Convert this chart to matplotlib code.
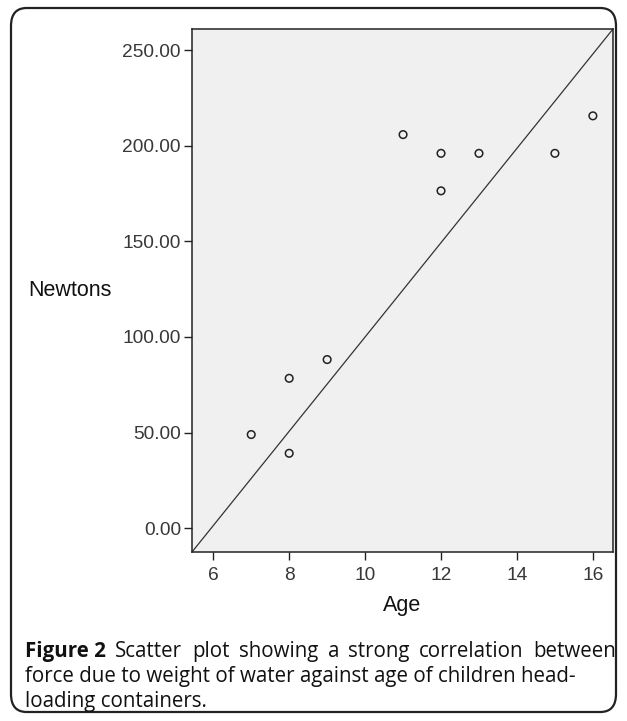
import numpy as np
import matplotlib
matplotlib.use("Agg")
import matplotlib.pyplot as plt
from matplotlib.patches import FancyBboxPatch

# donnees
age = [7, 8, 8, 9, 11, 12, 12, 13, 15, 16]
newtons = [49.0, 78.4, 39.2, 88.2, 205.8, 196.0, 176.4, 196.0, 196.0, 215.6]
yticks = [0, 50, 100, 150, 200, 250]
xticks = [6, 8, 10, 12, 14, 16]
xlim = (5.44, 16.53)
ylim = (-12.4, 261.0)

caption_1 = ["Scatter", "plot", "showing", "a", "strong", "correlation", "between"]
caption_2 = "force due to weight of water against age of children head-"
caption_3 = "loading containers."

W, H = 627, 721
fig = plt.figure(figsize=(W / 100, H / 100), dpi=100)
fig.patch.set_facecolor("white")

# cadre arrondi autour de la figure
box = FancyBboxPatch((11 / W, 9 / H), (W - 22) / W, (H - 17) / H,
                     boxstyle="round,pad=0,rounding_size=0.025",
                     transform=fig.transFigure, fill=False,
                     edgecolor="#222222", linewidth=1.6)
fig.patches.append(box)

ax = fig.add_axes([192 / W, 1 - 552 / H, (613 - 192) / W, (552 - 29) / H])
ax.set_facecolor("#f0f0f0")
ax.scatter(age, newtons, s=30, facecolors="none", edgecolors="#222222",
           linewidths=1.1, zorder=3)

ax.set_xlim(*xlim)
ax.set_ylim(*ylim)
# ligne de reference d'un coin a l'autre
ax.plot(xlim, ylim, color="#333333", linewidth=0.9)

ax.set_xticks(xticks)
ax.set_xticklabels([str(t) for t in xticks])
ax.set_yticks(yticks)
ax.set_yticklabels([f"{t:.2f}" for t in yticks])
ax.tick_params(direction="out", length=6, width=1, color="#222222",
               labelsize=13.8, labelcolor="#383838", pad=2)
for lab in ax.get_xticklabels() + ax.get_yticklabels():
    lab.set_family("Liberation Sans")
ax.tick_params(axis="x", pad=5)
for sp in ax.spines.values():
    sp.set_color("#222222")
    sp.set_linewidth(1.1)

fig.text(28 / W, 1 - 290 / H, "Newtons", fontsize=15.5, family="Liberation Sans",
         color="#111111", ha="left", va="center")
fig.text(402 / W, 1 - 606 / H, "Age", fontsize=15.5, family="Liberation Sans",
         color="#111111", ha="center", va="center")

# legende justifiee (meme ligne de base pour tous les mots)
cap_font = dict(family="Open Sans", fontsize=14.8, fontweight=500,
                color="#111111", va="baseline")
fig.canvas.draw()
r = fig.canvas.get_renderer()
x0, x1 = 25, 616
y1 = 1 - 657 / H
bold = fig.text(x0 / W, y1, "Figure 2", **{**cap_font, "fontweight": "bold"})
words = [fig.text(0, y1, w, **cap_font) for w in caption_1]
widths = [t.get_window_extent(r).width for t in [bold] + words]
gap = (x1 - x0 - sum(widths)) / len(words)
x = x0 + widths[0] + gap
for t, wd in zip(words, widths[1:]):
    t.set_x(x / W)
    x += wd + gap
fig.text(x0 / W, 1 - 682 / H, caption_2, **cap_font)
fig.text(x0 / W, 1 - 707 / H, caption_3, **cap_font)

fig.savefig("out.png", dpi=100)
